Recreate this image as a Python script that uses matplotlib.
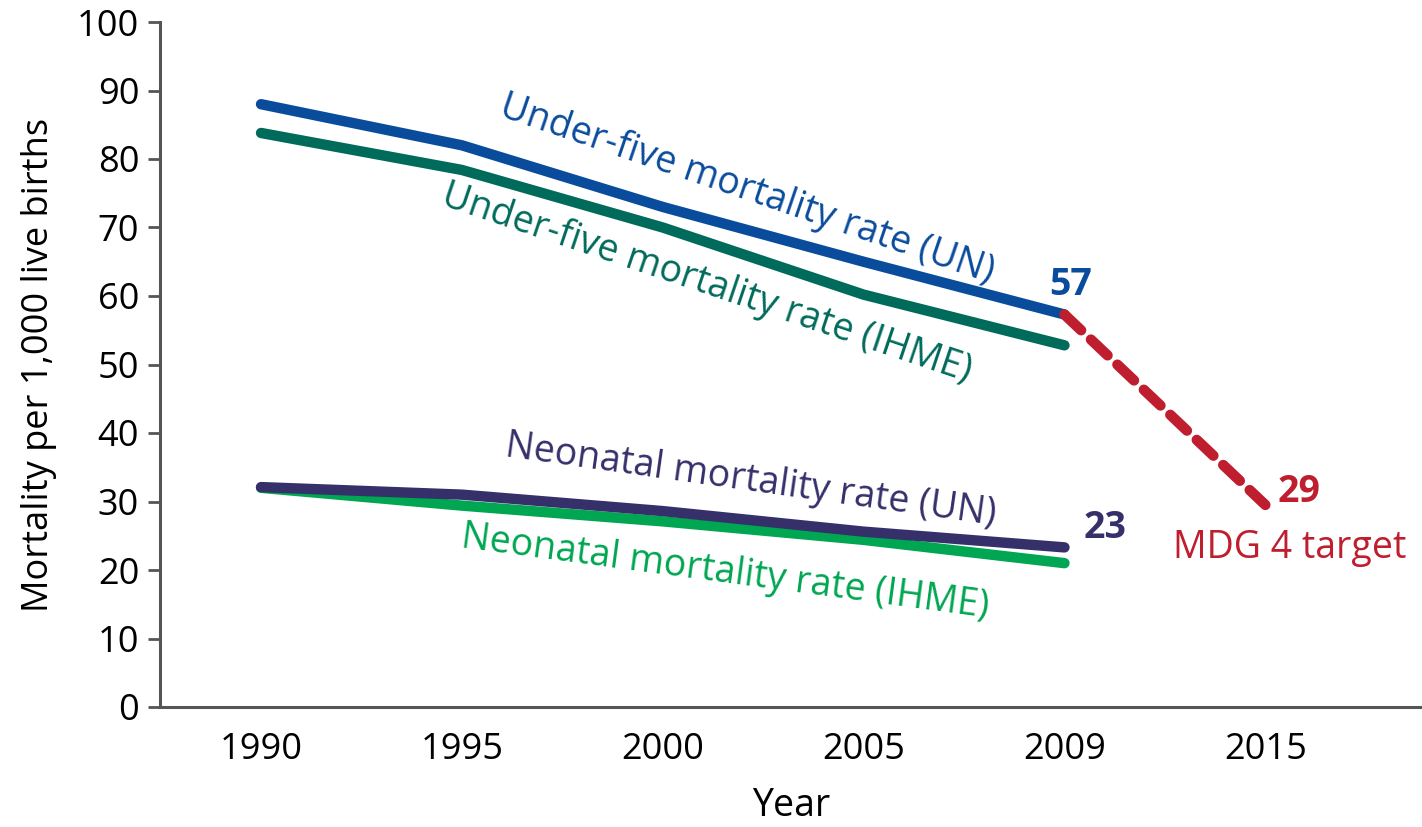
import matplotlib
matplotlib.use("Agg")
import matplotlib.pyplot as plt

years = ["1990", "1995", "2000", "2005", "2009", "2015"]
u5_un = [88, 82, 73, 65, 57.3]
u5_ihme = [83.8, 78.4, 70, 60.2, 52.8]
nn_un = [32.1, 31, 28.6, 25.6, 23.3]
nn_ihme = [32, 29.4, 27.1, 24.4, 21]
target = [57.3, 29.5]

BLUE = "#0A4C9C"
TEAL = "#006B5B"
PURPLE = "#35306A"
GREEN = "#00A651"
RED = "#BE1E2D"
MAIN = "Open Sans"

fig = plt.figure(figsize=(14.22, 8.27), dpi=100)
ax = fig.add_axes([160/1422, 120/827, 1 - 160/1422, (707-22)/827])

x = list(range(len(years)))
lw = 7.5
ax.plot(x[:5], u5_ihme, color=TEAL, lw=lw, solid_capstyle="round", solid_joinstyle="round")
ax.plot(x[:5], u5_un, color=BLUE, lw=lw, solid_capstyle="round", solid_joinstyle="round")
ax.plot(x[:5], nn_ihme, color=GREEN, lw=lw, solid_capstyle="round", solid_joinstyle="round")
ax.plot(x[:5], nn_un, color=PURPLE, lw=lw, solid_capstyle="round", solid_joinstyle="round")
ax.plot(x[4:6], target, color=RED, lw=lw, ls=(0, (2.2, 1.3)), dash_capstyle="round")

ax.set_xlim(-0.503, 5.78)
ax.set_ylim(0, 100)
ax.set_yticks(range(0, 101, 10))
ax.set_xticks(x)
ax.set_xticklabels(years, fontfamily=MAIN, fontsize=26)
for lab in ax.get_yticklabels():
    lab.set_fontfamily(MAIN)
    lab.set_fontsize(26)
ax.tick_params(axis="y", length=9, width=2, color="#555555", pad=6)
ax.tick_params(axis="x", length=0, pad=18)
for s in ["top", "right"]:
    ax.spines[s].set_visible(False)
for s in ["left", "bottom"]:
    ax.spines[s].set_color("#555555")
    ax.spines[s].set_linewidth(2.2)

ax.set_ylabel("Mortality per 1,000 live births", fontfamily=MAIN, fontsize=26, labelpad=14)
ax.set_xlabel("Year", fontfamily=MAIN, fontsize=27, labelpad=14)

kw = dict(fontfamily=MAIN, fontsize=27, ha="center", va="center", rotation_mode="anchor")
ax.text(2.42, 75.6, "Under-five mortality rate (UN)", color=BLUE, rotation=-18.8, **kw)
ax.text(2.22, 61.8, "Under-five mortality rate (IHME)", color=TEAL, rotation=-18.6, **kw)
ax.text(2.44, 33.0, "Neonatal mortality rate (UN)", color=PURPLE, rotation=-8.0, **kw)
ax.text(2.31, 19.7, "Neonatal mortality rate (IHME)", color=GREEN, rotation=-7.6, **kw)

bkw = dict(fontfamily=MAIN, fontsize=27, fontweight="bold", ha="center", va="center")
ax.text(4.03, 61.6, "57", color=BLUE, **bkw)
ax.text(4.2, 26.1, "23", color=PURPLE, **bkw)
ax.text(5.17, 31.4, "29", color=RED, **bkw)
ax.text(5.12, 23.2, "MDG 4 target", color=RED, fontfamily=MAIN, fontsize=27, ha="center", va="center")

fig.savefig("out.png", dpi=100)
